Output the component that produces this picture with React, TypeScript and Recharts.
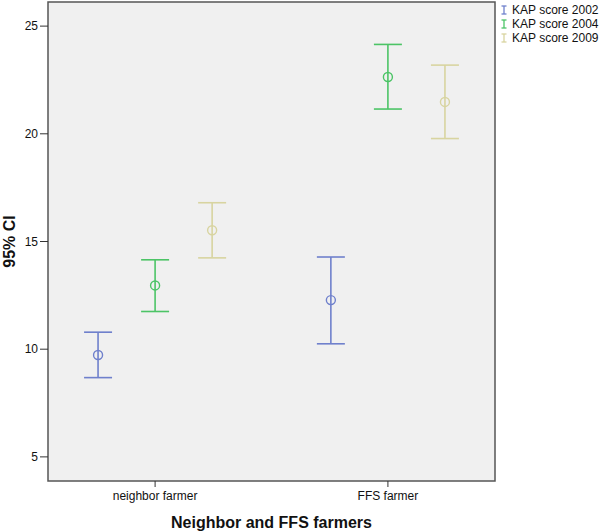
import React from "react";
import {
  ComposedChart,
  Scatter,
  ErrorBar,
  XAxis,
  YAxis,
  ReferenceArea,
  Legend,
} from "recharts";

const categories = ["neighbor farmer", "FFS farmer"];
const seriesNames = ["KAP score 2002", "KAP score 2004", "KAP score 2009"];

// mean and 95% CI bounds
const mean2002 = [9.73, 12.28];
const lower2002 = [8.68, 10.25];
const upper2002 = [10.79, 14.28];

const mean2004 = [12.96, 22.64];
const lower2004 = [11.75, 21.15];
const upper2004 = [14.15, 24.15];

const mean2009 = [15.52, 21.48];
const lower2009 = [14.24, 19.78];
const upper2009 = [16.8, 23.19];

const yTicks = [5, 10, 15, 20, 25];

const colors = ["#6f80cc", "#4cc466", "#d8d4a0"];
const offsets = [-0.245, 0, 0.245];
const font = "'Liberation Sans', Arial, sans-serif";

function buildSeries(means: number[], lowers: number[], uppers: number[], offset: number) {
  return categories.map((c, i) => ({
    x: i + offset,
    y: means[i],
    err: [means[i] - lowers[i], uppers[i] - means[i]],
  }));
}

const series = [
  buildSeries(mean2002, lower2002, upper2002, offsets[0]),
  buildSeries(mean2004, lower2004, upper2004, offsets[1]),
  buildSeries(mean2009, lower2009, upper2009, offsets[2]),
];

const renderLegend = () => (
  <div style={{ fontFamily: font, fontSize: 12, color: "#111", lineHeight: "14px" }}>
    {seriesNames.map((name, i) => (
      <div key={name} style={{ display: "flex", alignItems: "center", height: 14 }}>
        <svg width={8} height={10} style={{ marginRight: 4 }}>
          <line x1={4} y1={1} x2={4} y2={9} stroke={colors[i]} strokeWidth={1.3} />
          <line x1={1.5} y1={1} x2={6.5} y2={1} stroke={colors[i]} strokeWidth={1.3} />
          <line x1={1.5} y1={9} x2={6.5} y2={9} stroke={colors[i]} strokeWidth={1.3} />
        </svg>
        <span>{name}</span>
      </div>
    ))}
  </div>
);

const yLabel = (props: any) => {
  const vb = props.viewBox;
  const x = vb.x + 15;
  const y = vb.y + vb.height / 2;
  return (
    <text
      x={x}
      y={y}
      transform={`rotate(-90, ${x}, ${y})`}
      textAnchor="middle"
      fontWeight="bold"
      fontSize={16}
      fontFamily={font}
      fill="#111"
    >
      95% CI
    </text>
  );
};

export default function App() {
  return (
    <div style={{ position: "absolute", left: 0, top: 0, fontFamily: font }}>
      <ComposedChart
        width={600}
        height={532}
        margin={{ top: 2, right: 105, bottom: 0, left: 0 }}
      >
        <XAxis
          type="number"
          dataKey="x"
          domain={[-0.46, 1.46]}
          ticks={[0, 1]}
          tickFormatter={(v: number) => categories[Math.round(v)]}
          allowDataOverflow
          height={51}
          axisLine={false}
          tickLine={{ stroke: "#333" }}
          tickSize={6}
          tickMargin={4}
          tick={{ fontSize: 12, fill: "#111", fontFamily: font }}
          label={{
            value: "Neighbor and FFS farmers",
            position: "insideBottom",
            offset: 4,
            fontSize: 16,
            fontWeight: "bold",
            fill: "#111",
            fontFamily: font,
          }}
        />
        <YAxis
          type="number"
          dataKey="y"
          domain={[3.88, 26.12]}
          ticks={yTicks}
          allowDataOverflow
          width={48}
          axisLine={false}
          tickLine={{ stroke: "#333" }}
          tickSize={8}
          tickMargin={2}
          tick={{ fontSize: 12, fill: "#111", fontFamily: font }}
          label={{ content: yLabel }}
        />
        <ReferenceArea
          x1={-0.46}
          x2={1.46}
          y1={3.88}
          y2={26.12}
          fill="#f0f0f0"
          fillOpacity={1}
          stroke="#555"
          strokeWidth={1.5}
        />
        {series.map((data, i) => (
          <Scatter
            key={seriesNames[i]}
            name={seriesNames[i]}
            data={data}
            isAnimationActive={false}
            shape={(p: any) => (
              <circle cx={p.cx} cy={p.cy} r={4.5} fill="none" stroke={colors[i]} strokeWidth={1.4} />
            )}
          >
            <ErrorBar
              dataKey="err"
              direction="y"
              width={14}
              stroke={colors[i]}
              strokeWidth={1.6}
              isAnimationActive={false}
            />
          </Scatter>
        ))}
        <Legend
          layout="vertical"
          align="center"
          verticalAlign="middle"
          content={renderLegend}
          wrapperStyle={{ left: 500, top: 3, width: 100 }}
        />
      </ComposedChart>
    </div>
  );
}
